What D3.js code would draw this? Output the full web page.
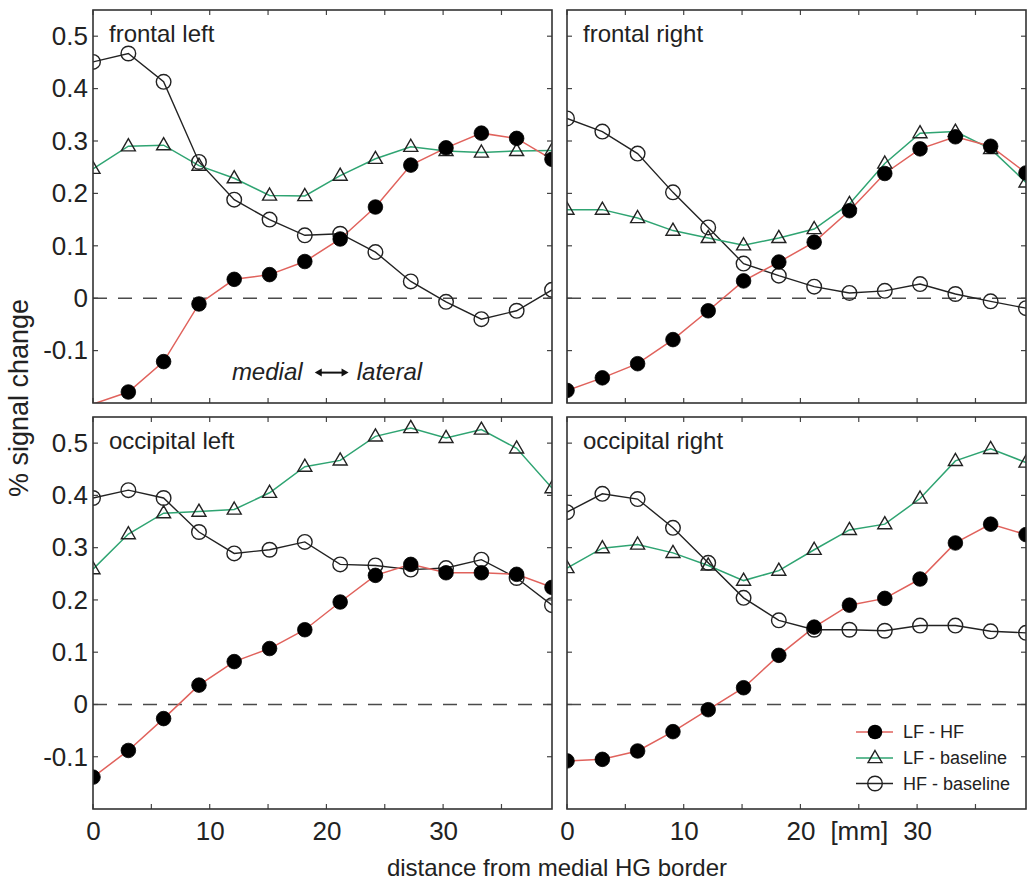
<!DOCTYPE html>
<html>
<head>
<meta charset="utf-8">
<script src="https://cdn.jsdelivr.net/npm/d3@7"></script>
<style>
  html, body { margin: 0; padding: 0; background: #fff; }
  svg { display: block; font-family: "Liberation Sans", Arial, sans-serif; }
</style>
</head>
<body>
<svg id="chart" width="1029" height="880"></svg>
<script>
// ---------- data ----------
const distanceMM = [0, 3.03, 6.05, 9.08, 12.10, 15.13, 18.15, 21.18, 24.20, 27.23, 30.25, 33.28, 36.30, 39.33];

const frontalLeftLFHF   = [-0.202, -0.179, -0.121, -0.011, 0.036, 0.045, 0.070, 0.113, 0.174, 0.254, 0.287, 0.315, 0.305, 0.265];
const frontalLeftLFBase = [0.247, 0.290, 0.292, 0.253, 0.229, 0.196, 0.195, 0.234, 0.266, 0.289, 0.281, 0.278, 0.281, 0.282];
const frontalLeftHFBase = [0.451, 0.467, 0.413, 0.260, 0.188, 0.150, 0.120, 0.123, 0.088, 0.032, -0.007, -0.040, -0.024, 0.016];

const frontalRightLFHF   = [-0.176, -0.152, -0.125, -0.079, -0.024, 0.033, 0.069, 0.107, 0.167, 0.238, 0.285, 0.308, 0.290, 0.239];
const frontalRightLFBase = [0.169, 0.169, 0.153, 0.129, 0.115, 0.101, 0.115, 0.132, 0.180, 0.257, 0.315, 0.318, 0.285, 0.221];
const frontalRightHFBase = [0.343, 0.318, 0.276, 0.202, 0.135, 0.066, 0.043, 0.022, 0.010, 0.014, 0.027, 0.008, -0.006, -0.019];

const occipitalLeftLFHF   = [-0.139, -0.088, -0.027, 0.037, 0.082, 0.107, 0.143, 0.196, 0.247, 0.268, 0.252, 0.252, 0.249, 0.224];
const occipitalLeftLFBase = [0.259, 0.326, 0.366, 0.369, 0.373, 0.405, 0.455, 0.467, 0.513, 0.529, 0.510, 0.526, 0.490, 0.414];
const occipitalLeftHFBase = [0.395, 0.410, 0.395, 0.330, 0.289, 0.296, 0.311, 0.268, 0.266, 0.258, 0.261, 0.277, 0.242, 0.190];

const occipitalRightLFHF   = [-0.108, -0.105, -0.089, -0.052, -0.010, 0.032, 0.094, 0.148, 0.190, 0.203, 0.240, 0.309, 0.345, 0.325];
const occipitalRightLFBase = [0.261, 0.299, 0.306, 0.290, 0.266, 0.237, 0.256, 0.296, 0.334, 0.345, 0.394, 0.466, 0.489, 0.463];
const occipitalRightHFBase = [0.368, 0.403, 0.393, 0.338, 0.271, 0.204, 0.161, 0.143, 0.143, 0.141, 0.151, 0.151, 0.140, 0.137];

const panelTitles = ["frontal left", "frontal right", "occipital left", "occipital right"];
const seriesNames = ["LF - HF", "LF - baseline", "HF - baseline"];
const yTickValues = [-0.1, 0, 0.1, 0.2, 0.3, 0.4, 0.5];
const yTickLabels = ["-0.1", "0", "0.1", "0.2", "0.3", "0.4", "0.5"];
const xTickValues = [0, 5, 10, 15, 20, 25, 30, 35];
const xTickLabelsLeft  = {0: "0", 10: "10", 20: "20", 30: "30"};
const xTickLabelsRight = {0: "0", 10: "10", 20: "20", 25: "[mm]", 30: "30"};
const xLabel = "distance from medial HG border";
const yLabel = "% signal change";

// ---------- layout ----------
const svg = d3.select("#chart");
const xDomain = [0, 39.33];
const yDomain = [-0.2, 0.55];
const panelW = 459;
const colX = [93, 567];
const rowY = [[10, 403], [417, 809]];

const colors = { red: "#e0625c", green: "#2fa472", black: "#222" };
const fontFam = '"Liberation Sans", Arial, sans-serif';

const panels = [
  { title: panelTitles[0], col: 0, row: 0, lfhf: frontalLeftLFHF, lfb: frontalLeftLFBase, hfb: frontalLeftHFBase },
  { title: panelTitles[1], col: 1, row: 0, lfhf: frontalRightLFHF, lfb: frontalRightLFBase, hfb: frontalRightHFBase },
  { title: panelTitles[2], col: 0, row: 1, lfhf: occipitalLeftLFHF, lfb: occipitalLeftLFBase, hfb: occipitalLeftHFBase },
  { title: panelTitles[3], col: 1, row: 1, lfhf: occipitalRightLFHF, lfb: occipitalRightLFBase, hfb: occipitalRightHFBase }
];

const triPath = (s) => {
  const h = s * Math.sqrt(3) / 2;
  return `M0,${-h * 0.62}L${s / 2},${h * 0.38}L${-s / 2},${h * 0.38}Z`;
};

panels.forEach((p, pi) => {
  const x0 = colX[p.col], x1 = x0 + panelW;
  const [y0, y1] = rowY[p.row];
  const x = d3.scaleLinear().domain(xDomain).range([x0, x1]);
  const y = d3.scaleLinear().domain(yDomain).range([y1, y0]);
  const g = svg.append("g");

  const clipId = "clip" + pi;
  svg.append("clipPath").attr("id", clipId)
    .append("rect").attr("x", x0).attr("y", y0).attr("width", x1 - x0).attr("height", y1 - y0);

  // zero dashed line
  g.append("line")
    .attr("x1", x0).attr("x2", x1).attr("y1", y(0)).attr("y2", y(0))
    .attr("stroke", "#4a4a4a").attr("stroke-width", 1.4).attr("stroke-dasharray", "14,11");

  // ticks (inside) on all four sides
  const tickLen = 5;
  const tg = g.append("g").attr("stroke", "#444").attr("stroke-width", 1.2);
  yTickValues.forEach(v => {
    tg.append("line").attr("x1", x0).attr("x2", x0 + tickLen).attr("y1", y(v)).attr("y2", y(v));
    tg.append("line").attr("x1", x1).attr("x2", x1 - tickLen).attr("y1", y(v)).attr("y2", y(v));
  });
  xTickValues.forEach(v => {
    tg.append("line").attr("x1", x(v)).attr("x2", x(v)).attr("y1", y0).attr("y2", y0 + tickLen);
    tg.append("line").attr("x1", x(v)).attr("x2", x(v)).attr("y1", y1).attr("y2", y1 - tickLen);
  });

  // y tick labels on left panels via d3 axis
  if (p.col === 0) {
    const ax = d3.axisLeft(y).tickValues(yTickValues)
      .tickFormat((d, i) => yTickLabels[i]).tickSize(0).tickPadding(5);
    const axg = g.append("g").attr("transform", `translate(${x0},0)`).call(ax);
    axg.select(".domain").remove();
    axg.selectAll("text").attr("font-size", 26).attr("font-family", fontFam).attr("fill", "#222");
  }
  // x tick labels on bottom panels
  if (p.row === 1) {
    const labels = p.col === 0 ? xTickLabelsLeft : xTickLabelsRight;
    const vals = Object.keys(labels).map(Number);
    const ax = d3.axisBottom(x).tickValues(vals).tickFormat(d => labels[d]).tickSize(0).tickPadding(13);
    const axg = g.append("g").attr("transform", `translate(0,${y1})`).call(ax);
    axg.select(".domain").remove();
    axg.selectAll("text").attr("font-size", 26).attr("font-family", fontFam).attr("fill", "#222");
  }

  // data
  const dg = g.append("g").attr("clip-path", `url(#${clipId})`);
  const line = d3.line().x((d, i) => x(distanceMM[i])).y(d => y(d));
  const inDomain = (v) => v >= yDomain[0] && v <= yDomain[1];

  // HF - baseline (open circles)
  dg.append("path").datum(p.hfb).attr("d", line).attr("fill", "none")
    .attr("stroke", colors.black).attr("stroke-width", 1.4);
  // LF - baseline (triangles)
  dg.append("path").datum(p.lfb).attr("d", line).attr("fill", "none")
    .attr("stroke", colors.green).attr("stroke-width", 1.5);
  // LF - HF (filled)
  dg.append("path").datum(p.lfhf).attr("d", line).attr("fill", "none")
    .attr("stroke", colors.red).attr("stroke-width", 1.5);

  dg.selectAll(".tri").data(p.lfb.map((v, i) => [distanceMM[i], v]).filter(d => inDomain(d[1])))
    .enter().append("path")
    .attr("transform", d => `translate(${x(d[0])},${y(d[1])})`)
    .attr("d", triPath(14)).attr("fill", "none").attr("stroke", colors.black).attr("stroke-width", 1.4);
  dg.selectAll(".oc").data(p.hfb.map((v, i) => [distanceMM[i], v]).filter(d => inDomain(d[1])))
    .enter().append("circle")
    .attr("cx", d => x(d[0])).attr("cy", d => y(d[1])).attr("r", 7.3)
    .attr("fill", "none").attr("stroke", colors.black).attr("stroke-width", 1.4);
  dg.selectAll(".fc").data(p.lfhf.map((v, i) => [distanceMM[i], v]).filter(d => inDomain(d[1])))
    .enter().append("circle")
    .attr("cx", d => x(d[0])).attr("cy", d => y(d[1])).attr("r", 7.3)
    .attr("fill", "#000").attr("stroke", "#000").attr("stroke-width", 0.8);

  // frame
  g.append("rect").attr("x", x0).attr("y", y0).attr("width", x1 - x0).attr("height", y1 - y0)
    .attr("fill", "none").attr("stroke", "#333").attr("stroke-width", 1.6);

  // title
  g.append("text").attr("x", x0 + 16).attr("y", y0 + 32)
    .attr("font-size", 24).attr("font-family", fontFam).attr("fill", "#222").text(p.title);

  // annotation medial <-> lateral in frontal left
  if (pi === 0) {
    const ay = y(-0.142);
    g.append("text").attr("x", x(11.9)).attr("y", y(-0.156))
      .attr("font-size", 24).attr("font-style", "italic").attr("font-family", fontFam)
      .attr("fill", "#222").text("medial");
    const ax1 = x(19.0), ax2 = x(21.9);
    g.append("line").attr("x1", ax1 + 3).attr("x2", ax2 - 3).attr("y1", ay).attr("y2", ay)
      .attr("stroke", "#111").attr("stroke-width", 2);
    g.append("path").attr("d", `M${ax1},${ay}l7,-4l0,8z`).attr("fill", "#111");
    g.append("path").attr("d", `M${ax2},${ay}l-7,-4l0,8z`).attr("fill", "#111");
    g.append("text").attr("x", x(22.6)).attr("y", y(-0.156))
      .attr("font-size", 24).attr("font-style", "italic").attr("font-family", fontFam)
      .attr("fill", "#222").text("lateral");
  }

  // legend in occipital right
  if (pi === 3) {
    const lx1 = 856, lx2 = 893, lxm = 875, tx = 903;
    const rows = [732, 758, 783.5];
    const lcol = [colors.red, colors.green, colors.black];
    rows.forEach((ry, k) => {
      g.append("line").attr("x1", lx1).attr("x2", lx2).attr("y1", ry).attr("y2", ry)
        .attr("stroke", lcol[k]).attr("stroke-width", 1.5);
      if (k === 0) g.append("circle").attr("cx", lxm).attr("cy", ry).attr("r", 7.3).attr("fill", "#000");
      if (k === 1) g.append("path").attr("transform", `translate(${lxm},${ry})`).attr("d", triPath(14))
        .attr("fill", "none").attr("stroke", colors.black).attr("stroke-width", 1.4);
      if (k === 2) g.append("circle").attr("cx", lxm).attr("cy", ry).attr("r", 7.3)
        .attr("fill", "none").attr("stroke", colors.black).attr("stroke-width", 1.4);
      g.append("text").attr("x", tx).attr("y", ry).attr("dy", "0.35em")
        .attr("font-size", 18).attr("font-family", fontFam).attr("fill", "#222").text(seriesNames[k]);
    });
  }
});

// axis labels
svg.append("text").attr("x", 557).attr("y", 876).attr("text-anchor", "middle")
  .attr("font-size", 24).attr("font-family", fontFam).attr("fill", "#222").text(xLabel);
svg.append("text").attr("transform", "translate(28,398) rotate(-90)").attr("text-anchor", "middle")
  .attr("font-size", 27).attr("font-family", fontFam).attr("fill", "#222").text(yLabel);
</script>
</body>
</html>
